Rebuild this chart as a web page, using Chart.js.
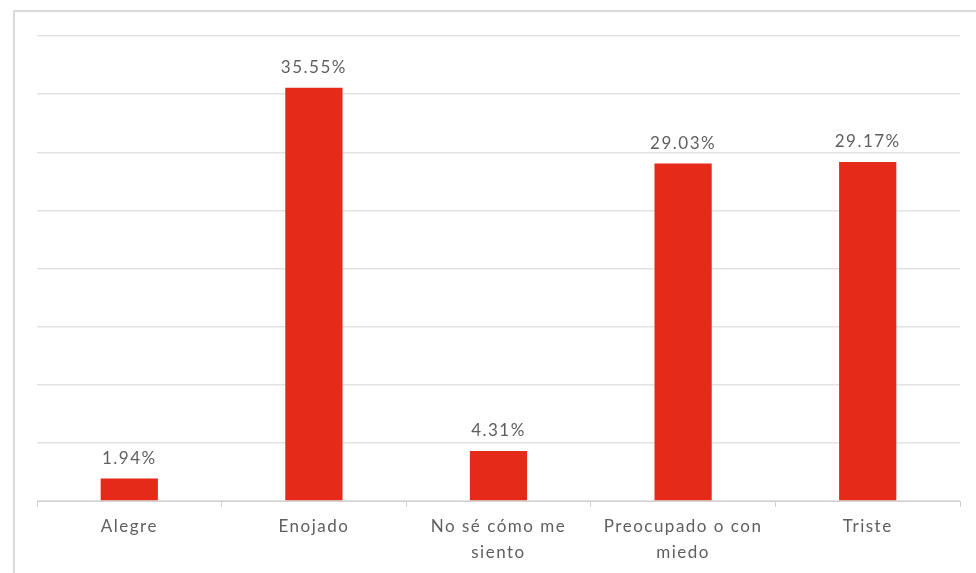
<!DOCTYPE html>
<html>
<head>
<meta charset="utf-8">
<script src="https://cdn.jsdelivr.net/npm/chart.js@4/dist/chart.umd.min.js"></script>
<style>
  body { margin: 0; background: #fff; }
  #wrap { position: relative; width: 976px; height: 573px; overflow: hidden; }
  #frame { position: absolute; left: 13px; top: 10px; width: 1000px; height: 600px; border: 2px solid #dadada; pointer-events: none; }
  canvas { position: absolute; left: 0; top: 0; }
</style>
</head>
<body>
<div id="wrap">
  <canvas id="myChart" width="976" height="573"></canvas>
  <div id="frame"></div>
</div>
<script>
const categories = ['Alegre', 'Enojado', ['No sé cómo me', 'siento'], ['Preocupado o con', 'miedo'], 'Triste']
const values = [1.94, 35.55, 4.31, 29.03, 29.17]
const valueLabels = ['1.94%', '35.55%', '4.31%', '29.03%', '29.17%']

const context = document.querySelector('#myChart')

// the reference text is a bit wide, so space the letters out
const spacingPlugin = {
  id: 'spacing',
  beforeDraw(chart) {
    chart.ctx.letterSpacing = '1.5px'
  }
}

// writes the percentage above each bar
const valueLabelPlugin = {
  id: 'valueLabels',
  afterDatasetsDraw(chart) {
    const ctx = chart.ctx
    const meta = chart.getDatasetMeta(0)
    ctx.save()
    ctx.letterSpacing = '1.5px'
    ctx.font = '17px Lato'
    ctx.fillStyle = '#5f5f5f'
    ctx.textAlign = 'center'
    ctx.textBaseline = 'middle'
    meta.data.forEach((bar, i) => {
      ctx.fillText(valueLabels[i], bar.x, bar.y - 20)
    })
    ctx.restore()
  }
}

const data = {
  labels: categories,
  datasets: [
    {
      data: values,
      backgroundColor: '#e52a19',
      borderWidth: 0,
      barPercentage: 0.31,
      categoryPercentage: 1
    }
  ]
}

const config = {
  type: 'bar',
  data: data,
  plugins: [spacingPlugin, valueLabelPlugin],
  options: {
    responsive: false,
    animation: false,
    layout: { padding: { top: 36, right: 16, left: 0, bottom: 0 } },
    plugins: {
      legend: { display: false },
      tooltip: { enabled: false }
    },
    scales: {
      x: {
        grid: { display: true, drawOnChartArea: false, offset: true, tickLength: 6, color: '#d0d0d0' },
        border: { color: '#d0d0d0', width: 1 },
        ticks: { color: '#5f5f5f', font: { family: 'Lato', size: 17, lineHeight: 1.5 }, padding: 7, maxRotation: 0 },
        afterFit(scale) { scale.height = 72 }
      },
      y: {
        min: 0,
        max: 40,
        ticks: { stepSize: 5, display: false },
        grid: { color: '#e2e2e2', lineWidth: 1.5, drawTicks: false },
        border: { display: false },
        afterFit(scale) { scale.width = 37 }
      }
    }
  }
}

new Chart(context, config)
</script>
</body>
</html>
